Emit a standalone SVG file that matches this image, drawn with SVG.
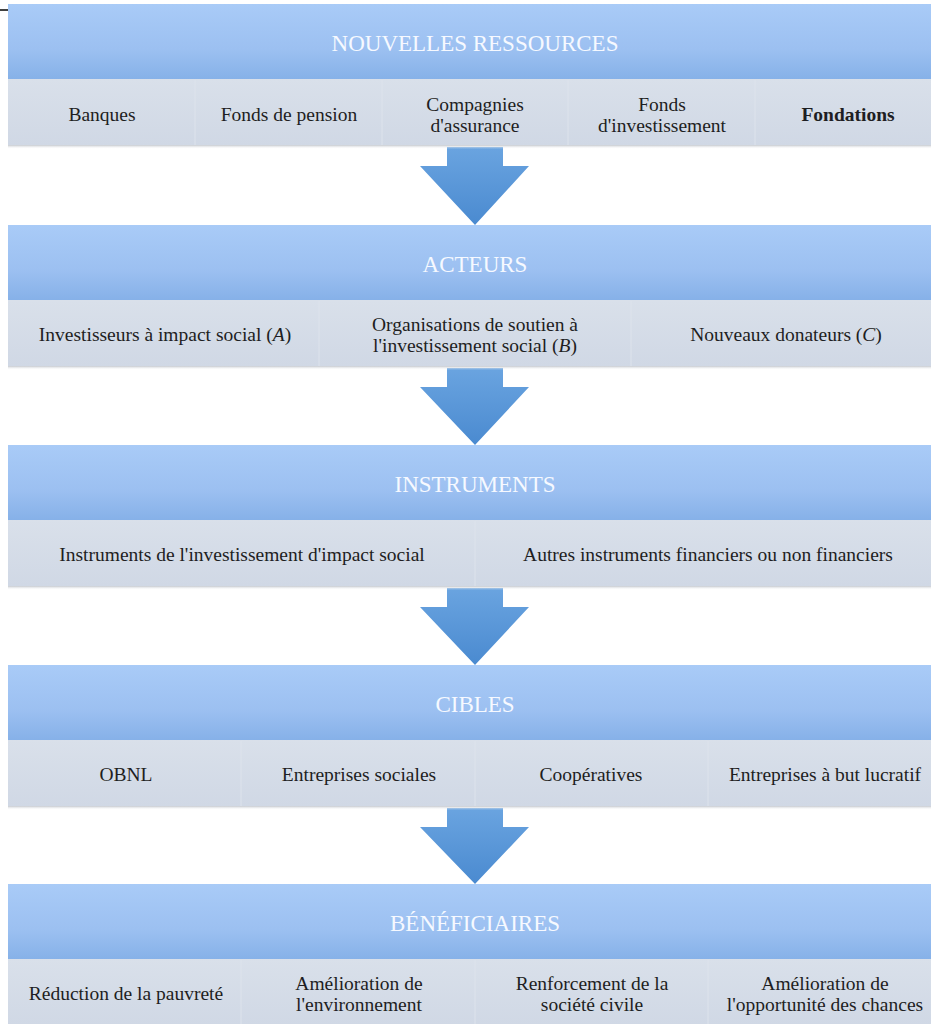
<svg xmlns="http://www.w3.org/2000/svg" width="931" height="1024" viewBox="0 0 931 1024">
<defs>
<linearGradient id="hdr" x1="0" y1="0" x2="0" y2="1">
<stop offset="0" stop-color="#a9cbf7"/>
<stop offset="0.6" stop-color="#9cc0f1"/>
<stop offset="1" stop-color="#86b1e8"/>
</linearGradient>
<linearGradient id="row" x1="0" y1="0" x2="0" y2="1">
<stop offset="0" stop-color="#d9e0ea"/>
<stop offset="1" stop-color="#d0d8e5"/>
</linearGradient>
<linearGradient id="arr" x1="0" y1="0" x2="0" y2="1">
<stop offset="0" stop-color="#6aa4e0"/>
<stop offset="1" stop-color="#4a8ad0"/>
</linearGradient>
<linearGradient id="shd" x1="0" y1="0" x2="0" y2="1">
<stop offset="0" stop-color="#c4c8ce"/>
<stop offset="1" stop-color="#ffffff" stop-opacity="0"/>
</linearGradient>
</defs>
<style>
.h{fill:url(#hdr)}
.r{fill:url(#row)}
.s{fill:url(#shd)}
.d{stroke:#dde3ec;stroke-width:1}
.ht{font-size:23px;fill:#f6f9ff;text-anchor:middle}
.t{font-size:19.5px;fill:#1e1e22;text-anchor:middle}
.b{font-weight:bold}
.a{fill:url(#arr)}
</style>
<rect x="0" y="0" width="931" height="1024" fill="#ffffff"/>
<line x1="0" y1="10" x2="9" y2="10" stroke="#000" stroke-width="1.5"/>

<g id="connectors">
<path class="a" d="M447,147 H503 V166 H529 L475,225 L420,166 H447 Z"/>
<path class="a" d="M447,368 H503 V387 H529 L475,445 L420,387 H447 Z"/>
<path class="a" d="M447,588 H503 V607 H529 L475,665 L420,607 H447 Z"/>
<path class="a" d="M447,808 H503 V827 H529 L475,884 L420,827 H447 Z"/>
</g>

<g font-family="Liberation Serif, DejaVu Serif, serif">
<g id="nouvelles-ressources">
<rect class="h" x="8" y="4" width="934" height="75"/>
<text class="ht" x="475" y="51">NOUVELLES RESSOURCES</text>
<rect class="r" x="8" y="79" width="934" height="66"/>
<rect class="s" x="8" y="145" width="934" height="4"/>
<line class="d" x1="195" y1="80" x2="195" y2="145"/>
<line class="d" x1="382" y1="80" x2="382" y2="145"/>
<line class="d" x1="568" y1="80" x2="568" y2="145"/>
<line class="d" x1="755" y1="80" x2="755" y2="145"/>
<text class="t" x="102" y="121">Banques</text>
<text class="t" x="289" y="121">Fonds de pension</text>
<text class="t" x="475" y="111">Compagnies</text>
<text class="t" x="475" y="132">d'assurance</text>
<text class="t" x="662" y="111">Fonds</text>
<text class="t" x="662" y="132">d'investissement</text>
<text class="t b" x="848" y="121">Fondations</text>
</g>

<g id="acteurs">
<rect class="h" x="8" y="225" width="934" height="75"/>
<text class="ht" x="475" y="272">ACTEURS</text>
<rect class="r" x="8" y="300" width="934" height="66"/>
<rect class="s" x="8" y="366" width="934" height="4"/>
<line class="d" x1="319" y1="301" x2="319" y2="366"/>
<line class="d" x1="631" y1="301" x2="631" y2="366"/>
<text class="t" x="165" y="341">Investisseurs à impact social (<tspan font-style="italic">A</tspan>)</text>
<text class="t" x="475" y="331">Organisations de soutien à</text>
<text class="t" x="475" y="352">l'investissement social (<tspan font-style="italic">B</tspan>)</text>
<text class="t" x="786" y="341">Nouveaux donateurs (<tspan font-style="italic">C</tspan>)</text>
</g>

<g id="instruments">
<rect class="h" x="8" y="445" width="934" height="75"/>
<text class="ht" x="475" y="492">INSTRUMENTS</text>
<rect class="r" x="8" y="520" width="934" height="66"/>
<rect class="s" x="8" y="586" width="934" height="4"/>
<line class="d" x1="475" y1="521" x2="475" y2="586"/>
<text class="t" x="242" y="561">Instruments de l'investissement d'impact social</text>
<text class="t" x="708" y="561">Autres instruments financiers ou non financiers</text>
</g>

<g id="cibles">
<rect class="h" x="8" y="665" width="934" height="75"/>
<text class="ht" x="475" y="712">CIBLES</text>
<rect class="r" x="8" y="740" width="934" height="66"/>
<rect class="s" x="8" y="806" width="934" height="4"/>
<line class="d" x1="241" y1="741" x2="241" y2="806"/>
<line class="d" x1="475" y1="741" x2="475" y2="806"/>
<line class="d" x1="708" y1="741" x2="708" y2="806"/>
<text class="t" x="126" y="781">OBNL</text>
<text class="t" x="359" y="781">Entreprises sociales</text>
<text class="t" x="591" y="781">Coopératives</text>
<text class="t" x="825" y="781">Entreprises à but lucratif</text>
</g>

<g id="beneficiaires">
<rect class="h" x="8" y="884" width="934" height="75"/>
<text class="ht" x="475" y="931">BÉNÉFICIAIRES</text>
<rect class="r" x="8" y="959" width="934" height="66"/>
<line class="d" x1="241" y1="960" x2="241" y2="1024"/>
<line class="d" x1="475" y1="960" x2="475" y2="1024"/>
<line class="d" x1="708" y1="960" x2="708" y2="1024"/>
<text class="t" x="126" y="1000">Réduction de la pauvreté</text>
<text class="t" x="359" y="990">Amélioration de</text>
<text class="t" x="359" y="1011">l'environnement</text>
<text class="t" x="592" y="990">Renforcement de la</text>
<text class="t" x="592" y="1011">société civile</text>
<text class="t" x="825" y="990">Amélioration de</text>
<text class="t" x="825" y="1011">l'opportunité des chances</text>
</g>
</g>
</svg>
